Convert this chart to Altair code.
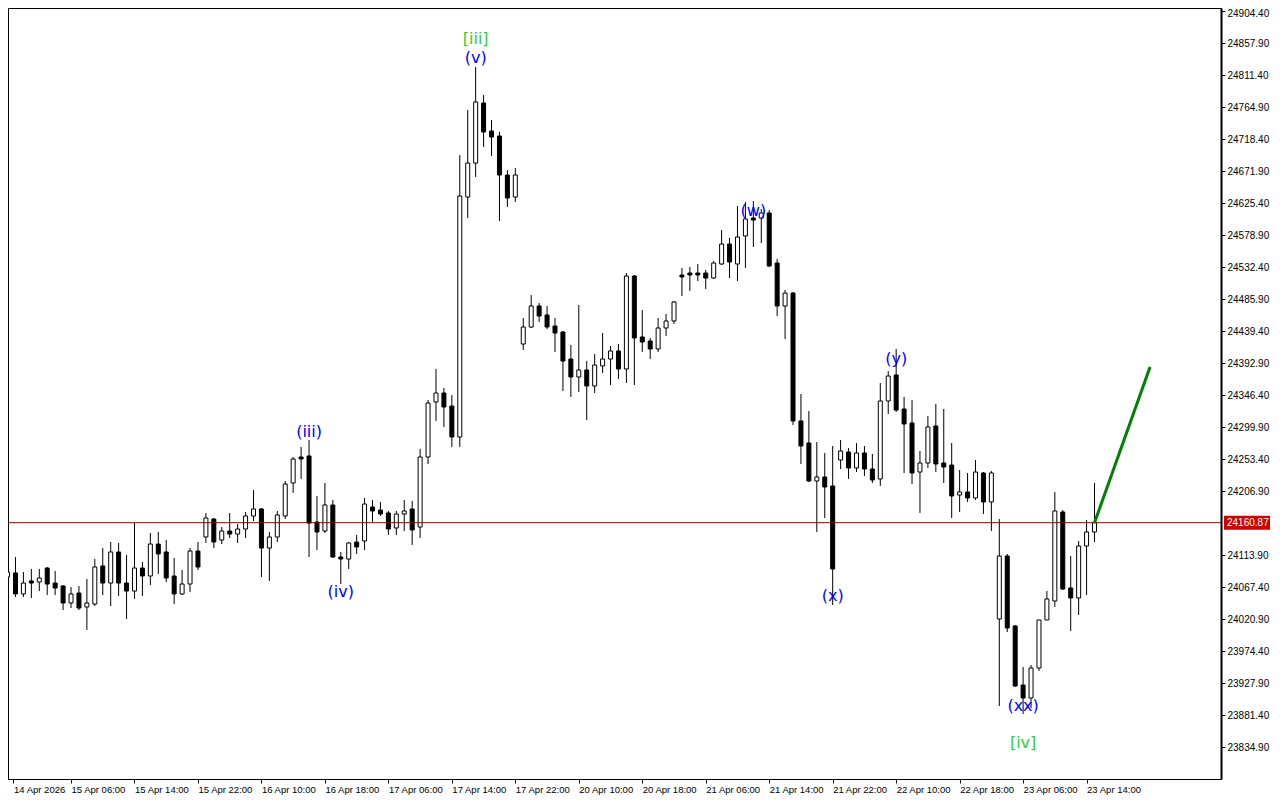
import altair as alt
import pandas as pd

# ---------------- data (hourly candles, index = bar number) ----------------
opens = [
    24082.0, 24087.8, 24057.3, 24076.2, 24074.7, 24095.0, 24073.2, 24068.9, 24044.2, 24058.7,
    24038.4, 24042.7, 24098.0, 24073.2, 24118.3, 24073.2, 24061.6, 24095.0, 24083.4, 24129.9,
    24118.3, 24083.4, 24057.3, 24071.8, 24119.7, 24140.1, 24166.2, 24135.7, 24148.8, 24144.4,
    24151.7, 24170.6, 24180.8, 24124.1, 24140.1, 24170.6, 24218.6, 24256.3, 24257.8, 24161.9,
    24148.8, 24186.6, 24111.0, 24108.1, 24132.8, 24134.3, 24183.7, 24179.3, 24175.0, 24153.2,
    24173.5, 24180.8, 24154.6, 24256.3, 24336.3, 24349.3, 24330.4, 24285.4, 24634.1, 24683.5,
    24770.7, 24730.0, 24722.8, 24666.1, 24634.1, 24420.5, 24445.2, 24475.8, 24462.7, 24446.7,
    24438.0, 24398.7, 24372.6, 24382.8, 24359.5, 24388.6, 24398.7, 24410.4, 24384.2, 24519.3,
    24430.7, 24424.9, 24413.3, 24443.8, 24454.0, 24520.8, 24523.7, 24523.7, 24523.7, 24516.4,
    24536.8, 24565.8, 24536.8, 24577.5, 24603.6, 24603.6, 24610.9, 24538.2, 24475.8, 24494.6,
    24308.7, 24276.7, 24221.5, 24227.3, 24214.2, 24252.0, 24263.6, 24240.4, 24262.2, 24238.9,
    24224.4, 24337.7, 24375.5, 24326.1, 24305.7, 24234.5, 24247.6, 24301.4, 24247.6, 24244.7,
    24201.1, 24205.5, 24196.8, 24233.1, 24191.0, 24020.9, 24112.5, 24010.8, 23925.0, 23906.1,
    23949.7, 24019.5, 24047.1, 24176.4, 24066.0, 24051.5, 24127.0, 24147.4]
highs = [
    24092.1, 24111.0, 24089.2, 24093.6, 24093.6, 24096.5, 24090.7, 24070.3, 24067.4, 24068.9,
    24079.1, 24108.1, 24124.1, 24132.8, 24131.4, 24113.9, 24160.4, 24103.8, 24145.9, 24147.4,
    24135.7, 24109.6, 24092.1, 24124.1, 24132.8, 24175.0, 24167.7, 24154.6, 24175.0, 24159.0,
    24176.4, 24208.4, 24182.2, 24147.4, 24177.9, 24221.5, 24256.3, 24270.9, 24281.0, 24199.7,
    24218.6, 24193.9, 24118.3, 24132.8, 24143.0, 24196.8, 24193.9, 24191.0, 24177.9, 24177.9,
    24193.9, 24192.4, 24268.0, 24339.2, 24384.2, 24356.6, 24346.4, 24695.2, 24760.6, 24823.0,
    24782.4, 24746.0, 24728.6, 24673.4, 24676.3, 24458.3, 24491.7, 24480.1, 24475.8, 24458.3,
    24439.4, 24419.1, 24477.2, 24395.8, 24406.0, 24436.5, 24417.6, 24420.5, 24523.7, 24520.8,
    24469.9, 24429.3, 24458.3, 24464.1, 24483.0, 24531.0, 24532.4, 24536.8, 24528.1, 24541.1,
    24586.2, 24574.6, 24621.1, 24626.9, 24628.3, 24616.7, 24615.3, 24544.1, 24499.0, 24496.1,
    24347.9, 24323.2, 24278.1, 24262.2, 24272.3, 24281.0, 24269.4, 24276.7, 24272.3, 24260.7,
    24363.9, 24381.3, 24413.3, 24343.5, 24339.2, 24265.1, 24315.9, 24333.4, 24326.1, 24276.7,
    24237.4, 24233.1, 24252.0, 24234.5, 24236.0, 24166.2, 24115.4, 24012.2, 23951.2, 23954.1,
    24019.5, 24061.6, 24205.5, 24179.3, 24112.5, 24134.3, 24164.8, 24218.6]
lows = [
    24077.6, 24052.9, 24052.9, 24051.5, 24061.6, 24055.8, 24055.8, 24034.0, 24036.9, 24034.0,
    24005.0, 24039.8, 24055.8, 24039.8, 24054.4, 24020.9, 24050.0, 24054.4, 24070.3, 24086.3,
    24074.7, 24042.7, 24055.8, 24060.2, 24092.1, 24131.4, 24124.1, 24129.9, 24138.6, 24131.4,
    24138.6, 24163.3, 24082.0, 24076.2, 24132.8, 24166.2, 24204.0, 24224.4, 24111.0, 24121.2,
    24145.9, 24109.6, 24071.8, 24093.6, 24115.4, 24121.2, 24161.9, 24170.6, 24143.0, 24143.0,
    24148.8, 24128.5, 24138.6, 24246.2, 24308.7, 24299.9, 24270.9, 24270.9, 24603.6, 24663.2,
    24706.8, 24693.7, 24599.3, 24619.6, 24626.9, 24411.8, 24443.8, 24452.5, 24442.3, 24408.9,
    24352.2, 24343.5, 24350.8, 24310.1, 24349.3, 24378.4, 24361.0, 24369.7, 24363.9, 24361.0,
    24408.9, 24398.7, 24408.9, 24432.2, 24449.6, 24490.3, 24497.6, 24512.1, 24500.5, 24515.0,
    24535.3, 24516.4, 24512.1, 24531.0, 24561.5, 24567.3, 24532.4, 24461.2, 24427.8, 24302.8,
    24246.2, 24220.0, 24147.4, 24167.7, 24041.3, 24238.9, 24224.4, 24234.5, 24228.7, 24218.6,
    24214.2, 24318.8, 24321.7, 24233.1, 24217.1, 24175.0, 24240.4, 24234.5, 24218.6, 24167.7,
    24176.4, 24191.0, 24193.9, 24173.5, 24148.8, 23894.5, 24002.0, 23922.1, 23882.9, 23891.6,
    23945.4, 24019.5, 24038.4, 24063.1, 24003.5, 24026.7, 24055.8, 24132.8]
closes = [
    24089.2, 24057.3, 24073.2, 24073.2, 24080.5, 24071.8, 24066.0, 24044.2, 24057.3, 24036.9,
    24044.2, 24096.5, 24073.2, 24118.3, 24073.2, 24061.6, 24095.0, 24083.4, 24129.9, 24115.4,
    24080.5, 24057.3, 24071.8, 24119.7, 24096.5, 24167.7, 24132.8, 24148.8, 24144.4, 24151.7,
    24170.6, 24180.8, 24124.1, 24140.1, 24172.1, 24217.1, 24253.4, 24253.4, 24160.4, 24147.4,
    24186.6, 24111.0, 24108.1, 24131.4, 24125.6, 24188.0, 24177.9, 24173.5, 24151.7, 24173.5,
    24177.9, 24150.3, 24256.3, 24334.8, 24349.3, 24329.0, 24285.4, 24635.6, 24683.5, 24772.2,
    24728.6, 24721.3, 24666.1, 24632.7, 24666.1, 24445.2, 24475.8, 24461.2, 24445.2, 24436.5,
    24395.8, 24372.6, 24382.8, 24359.5, 24390.0, 24398.7, 24410.4, 24384.2, 24519.3, 24429.3,
    24423.4, 24413.3, 24443.8, 24454.0, 24481.6, 24517.9, 24520.8, 24520.8, 24516.4, 24538.2,
    24565.8, 24539.7, 24576.0, 24602.2, 24600.7, 24610.9, 24533.9, 24475.8, 24494.6, 24308.7,
    24272.3, 24221.5, 24227.3, 24212.7, 24093.6, 24265.1, 24240.4, 24262.2, 24238.9, 24222.9,
    24337.7, 24374.0, 24324.6, 24304.3, 24233.1, 24247.6, 24299.9, 24246.2, 24241.8, 24199.7,
    24205.5, 24196.8, 24234.5, 24191.0, 24233.1, 24112.5, 24007.9, 23923.6, 23906.1, 23949.7,
    24019.5, 24050.0, 24177.9, 24064.5, 24051.5, 24127.0, 24147.4, 24160.87]
bars = list(range(len(opens)))

time_labels = ["14 Apr 2026", "15 Apr 06:00", "15 Apr 14:00", "15 Apr 22:00",
               "16 Apr 10:00", "16 Apr 18:00", "17 Apr 06:00", "17 Apr 14:00",
               "17 Apr 22:00", "20 Apr 10:00", "20 Apr 18:00", "21 Apr 06:00",
               "21 Apr 14:00", "21 Apr 22:00", "22 Apr 10:00", "22 Apr 18:00",
               "23 Apr 06:00", "23 Apr 14:00"]
time_label_bars = [0.75, 8, 16, 24, 32, 40, 48, 56, 64, 72, 80, 88, 96, 104, 112, 120, 128, 136]

price_ticks = [23834.90, 23881.40, 23927.90, 23974.40, 24020.90, 24067.40, 24113.90,
               24206.90, 24253.40, 24299.90, 24346.40, 24392.90, 24439.40, 24485.90,
               24532.40, 24578.90, 24625.40, 24671.90, 24718.40, 24764.90, 24811.40,
               24857.90, 24904.40]
last_price = 24160.87

wave_text = ["[iii]", "(v)", "(iii)", "(iv)", "(w)", "(x)", "(y)", "(xx)", "[iv]"]
wave_bar = [59, 59, 38, 42, 94, 104, 112, 128, 128]
wave_price = [24863.7, 24836.1, 24292.7, 24060.2, 24613.8, 24054.4, 24398.7, 23894.5, 23840.7]
wave_degree = ["major", "minor", "minor", "minor", "minor", "minor", "minor", "minor", "major"]

projection_bar = [137, 144]
projection_price = [24160.87, 24387.0]

# ---------------- tables ----------------
candles = pd.DataFrame({"bar": bars, "open": opens, "high": highs,
                        "low": lows, "close": closes})
candles["dir"] = ["up" if c >= o else "down" for o, c in zip(opens, closes)]
waves = pd.DataFrame({"bar": wave_bar, "price": wave_price,
                      "text": wave_text, "degree": wave_degree})
proj = pd.DataFrame({"bar": projection_bar, "price": projection_price})
last = pd.DataFrame({"price": [last_price], "label": [f"{last_price:.2f}"]})

FONT = "Liberation Sans"
FS = 10
label_js = "[" + ",".join(f"'{t}'" for t in time_labels) + "]"
top_tick = max(price_ticks)

xscale = alt.Scale(domain=[0.6875, 152.3125], nice=False, zero=False)
yscale = alt.Scale(domain=[23788.44, 24908.78], nice=False, zero=False)
xaxis = alt.Axis(values=time_label_bars, labelExpr=f"{label_js}[floor(datum.value/8)]",
                 title=None, grid=False, tickSize=4, tickColor="black", labelAlign="left",
                 labelBaseline="top", labelPadding=1, labelFlush=False, labelOverlap=False,
                 labelFont=FONT, labelFontSize=9.5, labelColor="black",
                 domainColor="black", domainWidth=1)
yaxis = alt.Axis(orient="right", values=price_ticks, format=".2f", title=None, grid=False,
                 tickSize=4, tickColor="black", labelAlign="left", labelBaseline="middle",
                 labelOffset={"condition": {"test": f"datum.value >= {top_tick - 1}", "value": 2},
                              "value": 0},
                 labelPadding=2, labelFlush=False, labelOverlap=False,
                 labelFont=FONT, labelFontSize=FS, labelColor="black",
                 domainColor="black", domainWidth=2)


def X(field):
    return alt.X(f"{field}:Q", scale=xscale, axis=xaxis)


def Y(field):
    return alt.Y(f"{field}:Q", scale=yscale, axis=yaxis)


wicks = alt.Chart(candles).mark_rule(color="black", strokeWidth=1, clip=True).encode(
    x=X("bar"), y=Y("low"), y2="high:Q")
bodies = alt.Chart(candles).mark_bar(size=4, stroke="black", strokeWidth=1, clip=True).encode(
    x=X("bar"), y=Y("open"), y2="close:Q",
    fill=alt.Fill("dir:N", scale=alt.Scale(domain=["up", "down"], range=["white", "black"]),
                  legend=None))
price_line = alt.Chart(last).mark_rule(color="#8a0000", strokeWidth=1).encode(y=Y("price"))
proj_line = alt.Chart(proj).mark_line(color="#008000", strokeWidth=3, clip=True).encode(
    x=X("bar"), y=Y("price"))
wave_marks = alt.Chart(waves).mark_text(font="DejaVu Sans", fontSize=16, baseline="middle",
                                        align="center").encode(
    x=X("bar"), y=Y("price"), text="text:N",
    color=alt.Color("degree:N", scale=alt.Scale(domain=["minor", "major"],
                                                range=["#0000ff", "#33cc33"]), legend=None))
box = alt.Chart(last).mark_point(
    shape="M-1,-0.3043L1,-0.3043L1,0.3043L-1,0.3043Z", size=2116, filled=True,
    color="#d00000", opacity=1).encode(x=alt.value(1239), y=Y("price"))
box_text = alt.Chart(last).mark_text(align="left", baseline="middle", color="white",
                                     font=FONT, fontSize=FS).encode(
    x=alt.value(1219), y=Y("price"), text="label:N")

chart = alt.layer(wicks, bodies, price_line, proj_line, wave_marks, box, box_text).properties(
    width=1213, height=771, background="white",
    autosize=alt.AutoSizeParams(type="none"),
    padding={"left": 0, "top": 0, "right": 50, "bottom": 17},
).configure_view(stroke="black", strokeWidth=1)

chart.save("out.html", embed_options={"renderer": "svg", "actions": False})
